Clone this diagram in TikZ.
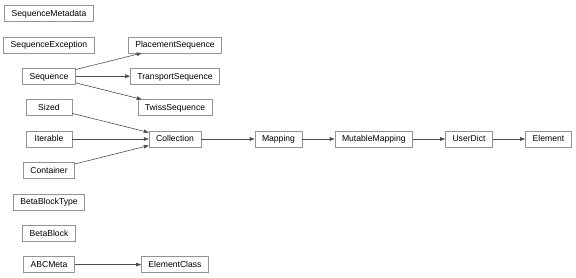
\documentclass[tikz,border=0pt]{standalone}
\usepackage{fontspec}
\setmainfont{Liberation Sans}
\usetikzlibrary{positioning,arrows.meta}
\begin{document}
\begin{tikzpicture}[x=1pt, y=-1pt, on grid, node distance=31.4pt,
        cls/.style={draw=gray!85, line width=0.6pt, rectangle, minimum height=16pt, minimum width=46pt,
                    inner xsep=7pt, inner ysep=0pt, text height=7.3pt, text depth=1.5pt,
                    font=\fontsize{8.6pt}{10pt}\selectfont},
        inh/.style={draw=black!70, line width=0.6pt, -{Triangle[length=5pt,width=3.6pt]}}]
                \useasboundingbox (0,0) rectangle (576,277);

                \node[cls] (Meta) at (49,13.4) {SequenceMetadata};
                \node[cls, below=of Meta] (Exc) {SequenceException};
                \node[cls, below=of Exc] (Seq) {Sequence};
                \node[cls, below=of Seq] (Sz) {Sized};
                \node[cls, below=of Sz] (It) {Iterable};
                \node[cls, below=of It] (Cont) {Container};
                \node[cls, below=of Cont] (BBT) {BetaBlockType};
                \node[cls, below=of BBT] (BB) {BetaBlock};
                \node[cls, below=of BB] (ABC) {ABCMeta};

                \node[cls, right=126pt of Exc] (Place) {PlacementSequence};
                \node[cls, right=126pt of Seq] (Trans) {TransportSequence};
                \node[cls, right=126pt of Sz] (Twiss) {TwissSequence};
                \node[cls, right=126pt of It] (Coll) {Collection};
                \node[cls, right=126pt of ABC] (EC) {ElementClass};

                \node[cls, right=103.5pt of Coll] (Map) {Mapping};
                \node[cls, right=95.3pt of Map] (MMap) {MutableMapping};
                \node[cls, right=95.2pt of MMap] (UD) {UserDict};
                \node[cls, right=79.5pt of UD] (El) {Element};

                \draw[inh] (Seq) -- (Place);
                \draw[inh] (Seq) -- (Trans);
                \draw[inh] (Seq) -- (Twiss);
                \draw[inh] (Sz) -- (Coll);
                \draw[inh] (It) -- (Coll);
                \draw[inh] (Cont) -- (Coll);
                \draw[inh] (Coll) -- (Map);
                \draw[inh] (Map) -- (MMap);
                \draw[inh] (MMap) -- (UD);
                \draw[inh] (UD) -- (El);
                \draw[inh] (ABC) -- (EC);
            \end{tikzpicture}
\end{document}
